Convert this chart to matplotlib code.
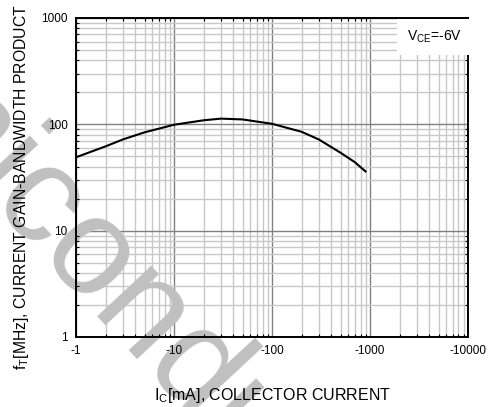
import numpy as np
import matplotlib
matplotlib.use('Agg')
import matplotlib.pyplot as plt
from matplotlib.ticker import FixedLocator, LogLocator, NullFormatter

plt.rcParams['font.family'] = ['Liberation Sans', 'DejaVu Sans']

# collector current (abs, mA) vs fT (MHz), VCE = -6V
ic = [1, 2, 3, 5, 10, 20, 30, 50, 100, 200, 300, 500, 700, 900]
ft = [49, 62, 72, 84, 99, 109, 113, 111, 101, 85, 72, 54, 44, 36]

x_ticks = [1, 10, 100, 1000, 10000]
x_labels = ['-1', '-10', '-100', '-1000', '-10000']
y_ticks = [1, 10, 100, 1000]
y_labels = ['1', '10', '100', '1000']

fig = plt.figure(figsize=(4.88, 4.07), dpi=100)
pos = [0.156, 0.172, 0.803, 0.784]


def setup(ax):
    ax.set_xscale('log')
    ax.set_yscale('log')
    ax.set_xlim(1, 10000)
    ax.set_ylim(1, 1000)
    ax.xaxis.set_major_locator(FixedLocator(x_ticks))
    ax.yaxis.set_major_locator(FixedLocator(y_ticks))
    ax.xaxis.set_minor_locator(LogLocator(base=10, subs=np.arange(2, 10)))
    ax.yaxis.set_minor_locator(LogLocator(base=10, subs=np.arange(2, 10)))
    ax.xaxis.set_minor_formatter(NullFormatter())
    ax.yaxis.set_minor_formatter(NullFormatter())


# back axes: grid only (sits under the watermark)
axg = fig.add_axes(pos, zorder=0)
setup(axg)
axg.grid(True, which='major', color='#808080', linewidth=1.0)
axg.grid(True, which='minor', color='#c8c8c8', linewidth=1.0)
axg.tick_params(which='both', length=0, labelbottom=False, labelleft=False)
for s in axg.spines.values():
    s.set_visible(False)

# watermark
fig.text(-0.466, 1.060, 'Semiconductor', fontsize=100, color='#c0c0c0', rotation=-47,
         rotation_mode='anchor', ha='left', va='baseline', zorder=0.5)

# front axes: curve, spines, labels
ax = fig.add_axes(pos, zorder=1)
setup(ax)
ax.patch.set_visible(False)
ax.set_xticklabels(x_labels)
ax.set_yticklabels(y_labels)
ax.tick_params(which='both', direction='in', top=True, right=True, labelsize=8.5,
               length=0, pad=6)
ax.tick_params(which='minor', length=2.5, width=0.8)
for s in ax.spines.values():
    s.set_linewidth(1.4)
    s.set_color('black')

ax.plot(ic, ft, color='black', linewidth=1.5)

ax.text(0.985, 0.965, r'V$_{\mathregular{CE}}$=-6V', transform=ax.transAxes,
        ha='right', va='top', fontsize=10,
        bbox=dict(facecolor='white', edgecolor='none', pad=7))

ax.set_xlabel(r'I$_{\mathregular{C}}$[mA], COLLECTOR CURRENT', fontsize=11.5, labelpad=21)
ax.set_ylabel(r'f$_{\mathregular{T}}$[MHz], CURRENT GAIN-BANDWIDTH PRODUCT', fontsize=11.3)
ax.yaxis.set_label_coords(-0.115, 0.469)

fig.savefig('out.png', dpi=100)
